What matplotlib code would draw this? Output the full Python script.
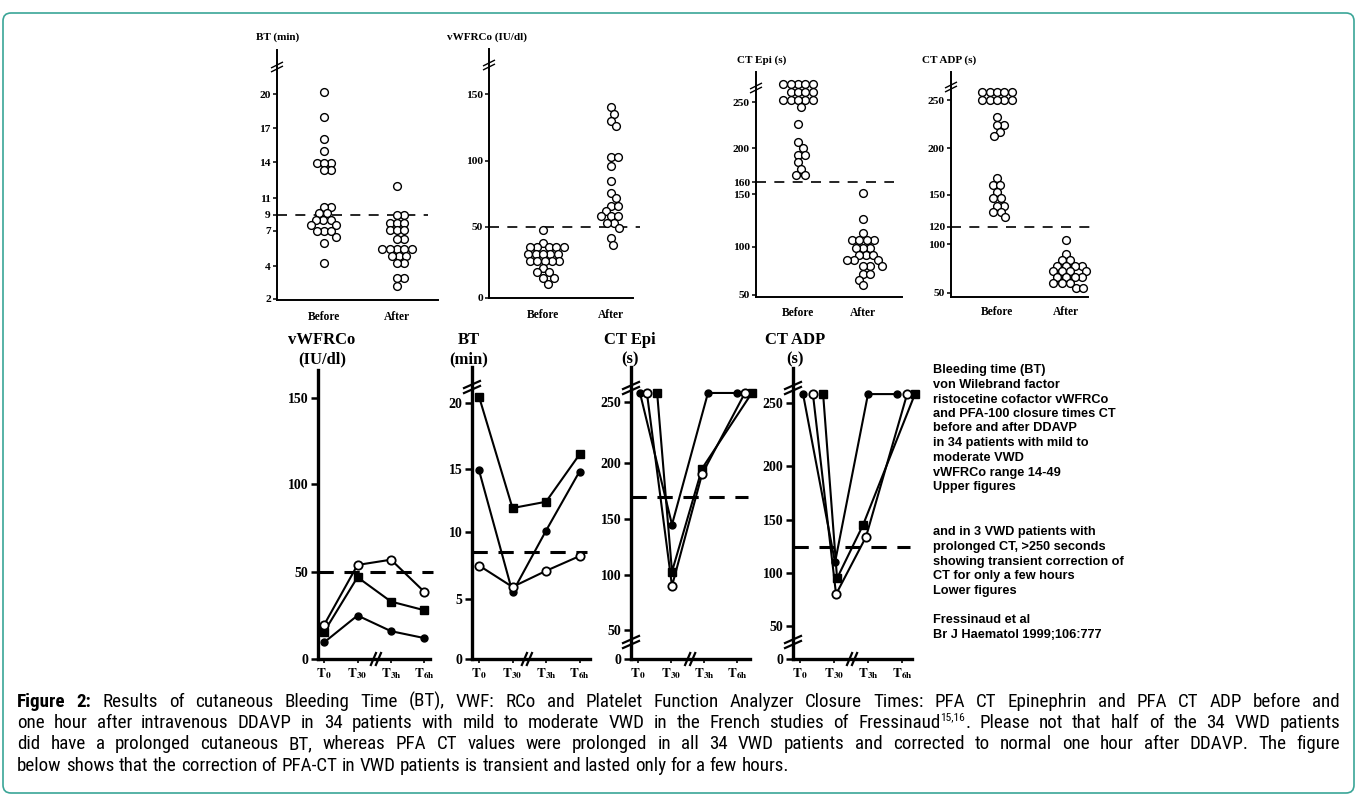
import numpy as np
import matplotlib
matplotlib.use("Agg")
import matplotlib.pyplot as plt
from matplotlib import font_manager, transforms
from matplotlib.font_manager import FontProperties
from matplotlib.lines import Line2D
from matplotlib.patches import FancyBboxPatch

W, H = 1357, 796

# upper figures: 34 VWD patients, before and after DDAVP
groups = ["Before", "After"]
bt_before = [20.2, 18, 16, 15, 13.9, 13.9, 13.9, 13.3, 13.3, 10.0, 10.0, 9.2, 9.2,
             8.4, 8.4, 8.4, 7.8, 7.8, 7.0, 7.0, 7.0, 6.5, 6.0, 4.3]
bt_after = [12.0, 9.0, 9.0, 8.0, 8.0, 8.0, 7.1, 7.1, 7.1, 6.3, 6.3, 5.5, 5.5, 5.5, 5.5,
            5.5, 4.9, 4.9, 4.9, 4.3, 4.3, 3.3, 3.3, 2.8]
vwf_before = [48, 39, 36, 36, 36, 36, 36, 31, 31, 31, 31, 31, 26, 26, 26, 26, 26,
              21, 18, 18, 14, 14, 10]
vwf_after = [140, 135, 130, 126, 103, 103, 96, 85, 76, 72, 66, 66, 62, 58, 58, 58,
             53, 53, 49, 42, 37]
epi_before = [270, 270, 270, 270, 270, 261, 261, 261, 261, 252, 252, 252, 252, 252,
              245, 226, 206, 200, 192, 192, 183, 175, 168, 168]
epi_after = [151, 126, 113, 107, 107, 107, 107, 99, 99, 99, 92, 92, 92, 86, 86, 86,
             80, 80, 80, 72, 72, 66, 60]
adp_before = [258, 258, 258, 258, 258, 250, 250, 250, 250, 250, 232, 224, 224, 217,
              212, 168, 161, 161, 153, 147, 147, 140, 140, 134, 134, 129]
adp_after = [105, 90, 84, 84, 78, 78, 78, 78, 72, 72, 72, 72, 66, 66, 66, 66,
             60, 60, 60, 55, 55]

# tick labels of the scanned axes (their spacing is not quite linear)
bt_ticks = [2, 4, 7, 9, 11, 14, 17, 20]
vwf_ticks = [0, 50, 100, 150]
epi_ticks = [50, 100, 150, 160, 200, 250]
adp_ticks = [50, 100, 120, 150, 200, 250]

# lower figures: 3 VWD patients with prolonged CT
time_labels = [r"$\mathbf{T_{0}}$", r"$\mathbf{T_{30}}$", r"$\mathbf{T_{3h}}$", r"$\mathbf{T_{6h}}$"]
times = [0, 1, 2, 3]
vwf_open = [19.5, 54, 57, 38.5]
vwf_square = [15.5, 47, 33, 28]
vwf_dot = [9.5, 25, 16, 12]
bt_square = [20.5, 11.9, 12.4, 16.1]
bt_dot = [14.9, 5.5, 10.1, 14.8]
bt_open = [7.5, 5.9, 7.1, 8.2]
epi_dot_t = [0.06, 1.03, 2.12, 3.0]
epi_dot = [258, 145, 258, 258]
epi_open_t = [0.27, 1.03, 1.94, 3.24]
epi_open = [258, 90, 190, 258]
epi_square_t = [0.58, 1.03, 1.94, 3.45]
epi_square = [258, 103, 195, 258]
adp_dot_t = [0.09, 1.03, 2.0, 2.85]
adp_dot = [258, 110, 258, 258]
adp_open_t = [0.38, 1.06, 1.94, 3.15]
adp_open = [258, 80, 134, 258]
adp_square_t = [0.68, 1.09, 1.85, 3.38]
adp_square = [258, 95, 145, 258]
low_vwf_ticks = [0, 50, 100, 150]
low_bt_ticks = [0, 5, 10, 15, 20]
low_ct_ticks = [0, 50, 100, 150, 200, 250]

notes = [
    (370, "Bleeding time (BT)"), (385, "von Wilebrand factor"),
    (400, "ristocetine cofactor vWFRCo"), (414, "and PFA-100 closure times CT"),
    (428, "before and after DDAVP"), (443, "in 34 patients with mild to"),
    (458, "moderate VWD"), (473, "vWFRCo range 14-49"), (487, "Upper figures"),
    (532, "and in 3 VWD patients with"), (547, "prolonged CT, >250 seconds"),
    (562, "showing transient correction of"), (576, "CT for only a few hours"),
    (591, "Lower figures"), (620, "Fressinaud et al"), (635, "Br J Haematol 1999;106:777"),
]

cap1 = ("Results of cutaneous Bleeding Time (BT), VWF: RCo and Platelet Function Analyzer "
        "Closure Times: PFA CT Epinephrin and PFA CT ADP before and")
cap2a = ("one hour after intravenous DDAVP in 34 patients with mild to moderate VWD in the "
         "French studies of Fressinaud")
cap2b = ". Please not that half of the 34 VWD patients"
cap3 = ("did have a prolonged cutaneous BT, whereas PFA CT values were prolonged in all 34 VWD "
        "patients and corrected to normal one hour after DDAVP. The figure")
cap4 = "below shows that the correction of PFA-CT in VWD patients is transient and lasted only for a few hours."

SERIF = "Liberation Serif"
SANS = "Liberation Sans"


def narrow_files():
    # look for a condensed sans face for the caption
    prefs = ["Liberation Sans Narrow", "Arial Narrow", "Roboto Condensed",
             "Open Sans Condensed", "Noto Sans Condensed", "DejaVu Sans"]
    found = {}
    for f in font_manager.fontManager.ttflist:
        cond = ("Narrow" in f.name or "Condensed" in f.name or
                f.stretch in ("condensed", "semi-condensed", "extra-condensed")
                or "Condensed" in f.fname)
        if not cond or f.style != "normal":
            continue
        w = f.weight if isinstance(f.weight, int) else (700 if "bold" in str(f.weight) else 400)
        key = "bold" if w >= 600 else ("reg" if w == 400 else None)
        if key:
            found.setdefault(f.name, {})[key] = f.fname
    for p in prefs:
        if p in found and "reg" in found[p]:
            d = found[p]
            return d["reg"], d.get("bold", d["reg"])
    for n, d in found.items():
        if "reg" in d:
            return d["reg"], d.get("bold", d["reg"])
    return None, None


REG, BOLD = narrow_files()


def cap_prop(size, bold=False):
    if REG:
        return FontProperties(fname=BOLD if bold else REG, size=size)
    return FontProperties(family=SANS, size=size, weight="bold" if bold else "normal")


fig = plt.figure(figsize=(W / 100, H / 100), dpi=100)
PIX = transforms.Affine2D().scale(1, -1).translate(0, H)


def pline(xs, ys, lw=1.2):
    fig.add_artist(Line2D(xs, ys, transform=PIX, color="k", lw=lw, solid_capstyle="butt"))


def ybreak(x, y, w=8, h=4, gap=4, lw=1.2):
    for g in (-gap / 2, gap / 2):
        pline([x - w, x + w], [y + g + h, y + g - h], lw)


def xbreak(x, y, w=3, h=7, gap=5, lw=1.4):
    for g in (-gap / 2, gap / 2):
        pline([x + g - w, x + g + w], [y + h, y - h], lw)


def ftext(x, y, s, **kw):
    return fig.text(x / W, 1 - y / H, s, **kw)


def add_ax(left, right, top, bottom):
    ax = fig.add_axes([left / W, 1 - bottom / H, (right - left) / W, (bottom - top) / H])
    ax.patch.set_alpha(0)
    ax.spines["top"].set_visible(False)
    ax.spines["right"].set_visible(False)
    return ax


def yscale(ax, ticks, pix, lo, hi, top, bottom):
    t = np.array([lo] + list(ticks) + [hi], float)
    p = -np.array([bottom] + list(pix) + [top], float)
    ax.set_yscale("function", functions=(lambda v: np.interp(v, t, p),
                                         lambda u: np.interp(u, p, t)))
    ax.set_ylim(lo, hi)
    ax.set_yticks(ticks)


def swarm(ax, xc, ys, d=7.3):
    disp = ax.transData.transform(np.column_stack([np.full(len(ys), xc), ys]))
    out = np.zeros(len(ys))
    placed = []
    for i in np.argsort(disp[:, 1])[::-1]:
        x0, y0 = disp[i]
        cands = [0.0]
        for px, py in placed:
            dy = py - y0
            if abs(dy) < d:
                dx = np.sqrt(d * d - dy * dy)
                cands += [px - x0 + dx, px - x0 - dx]
        for c in sorted(cands, key=abs):
            if all((px - x0 - c) ** 2 + (py - y0) ** 2 >= d * d * 0.97 for px, py in placed):
                break
        placed.append((x0 + c, y0))
        out[i] = x0 + c
    return ax.transData.inverted().transform(np.column_stack([out, disp[:, 1]]))[:, 0]


def upper(box, ticks, pix, lo, hi, bpx, apx, before, after, ref, ref_end, title, txy, brk, lab_y):
    left, right, top, bottom = box
    ax = add_ax(left, right, top, bottom)
    step = apx - bpx
    ax.set_xlim((left - bpx) / step, (right - bpx) / step)
    yscale(ax, ticks, pix, lo, hi, top, bottom)
    ax.set_yticklabels([str(t) for t in ticks], fontsize=8.2, fontweight="bold", family=SERIF)
    ax.tick_params(axis="y", length=3, width=1.1, pad=1.5)
    ax.set_xticks([])
    for s in ("left", "bottom"):
        ax.spines[s].set_linewidth(1.4)
    for k, vals in enumerate([before, after]):
        xs = swarm(ax, k, vals)
        ax.plot(xs, vals, "o", ms=5.6, mfc="white", mec="k", mew=1.0, clip_on=False, zorder=3)
    ax.axhline(ref, 0, (ref_end - left) / (right - left), color="k", lw=1.2,
               dashes=(6, 5), clip_on=False, zorder=1)
    ftext(txy[0], txy[1], title, fontsize=8, fontweight="bold", family=SERIF, va="center")
    for k, g in enumerate(groups):
        ftext([bpx, apx][k], lab_y, g, fontsize=8.3, fontweight="bold", family=SERIF,
              ha="center", va="center")
    ybreak(left, brk, w=6, h=3, gap=4, lw=1.0)
    return ax


upper((277, 438, 50, 300), bt_ticks, [299, 266, 231, 215, 198, 162, 128, 94], 1.9, 23.9,
      324, 397, bt_before, bt_after, 9, 428, "BT (min)", (256, 37), 67, 317)
upper((489, 633, 49, 298), vwf_ticks, [298, 227, 161, 94], -0.01, 183.6,
      543, 611, vwf_before, vwf_after, 50, 640, "vWFRCo (IU/dl)", (447, 37), 65, 315)
upper((756, 902, 72, 297), epi_ticks, [295, 247, 194, 182, 148, 102], 48, 282.6,
      798, 863, epi_before, epi_after, 160, 894, "CT Epi (s)", (737, 60), 88, 313)
upper((951, 1088, 72, 297), adp_ticks, [293, 244, 227, 195, 148, 100], 46, 279,
      997, 1066, adp_before, adp_after, 120, 1090, "CT ADP (s)", (922, 60), 87, 312)


def lower(box, ticks, pix, hi, t0, step, ref, ref_end, title, tx, brk_top, brk_bot, xbrk):
    left, right, top, bottom = box
    ax = add_ax(left, right, top, bottom)
    ax.set_xlim((left - t0) / step, (right - t0) / step)
    yscale(ax, ticks[1:], pix[1:], ticks[0], hi, top, bottom)
    ax.set_yticks(ticks)
    ax.set_yticklabels([str(t) for t in ticks], fontsize=10, fontweight="bold", family=SERIF)
    ax.set_xticks(times)
    ax.set_xticklabels(time_labels, fontsize=9.5, math_fontfamily="stix")
    ax.tick_params(axis="y", length=5, width=1.8, pad=2)
    ax.tick_params(axis="x", length=3, width=1.2, pad=2)
    for s in ("left", "bottom"):
        ax.spines[s].set_linewidth(2.4)
    ax.axhline(ref, 0, (ref_end - left) / (right - left), color="k", lw=2.2,
               dashes=(5, 3.5), clip_on=False, zorder=1)
    ftext(tx, 340, title[0], fontsize=12, fontweight="bold", family=SERIF, ha="center", va="center")
    ftext(tx, 359, title[1], fontsize=12, fontweight="bold", family=SERIF, ha="center", va="center")
    if brk_top:
        ybreak(left, brk_top, w=9, h=4, gap=5, lw=1.6)
    if brk_bot:
        ybreak(left, brk_bot, w=9, h=4, gap=5, lw=1.6)
    xbreak(t0 + xbrk * step, bottom, lw=1.6)
    return ax


def series(ax, t, v, kind):
    if kind == "open":
        ax.plot(t, v, "-o", color="k", lw=1.5, ms=6, mfc="white", mec="k", mew=1.3,
                clip_on=False, zorder=4)
    elif kind == "square":
        ax.plot(t, v, "-s", color="k", lw=1.5, ms=5.5, clip_on=False, zorder=3)
    else:
        ax.plot(t, v, "-o", color="k", lw=1.5, ms=5, clip_on=False, zorder=3)


ax5 = lower((318, 430, 370, 659), low_vwf_ticks, [659, 572, 484, 398], 166, 324, 33.5,
            50, 433, ("vWFRCo", "(IU/dl)"), 322, None, None, 1.55)
series(ax5, times, vwf_dot, "dot")
series(ax5, times, vwf_square, "square")
series(ax5, times, vwf_open, "open")

ax6 = lower((472, 590, 367, 659), low_bt_ticks, [659, 599, 532, 469, 403], 22.8, 479, 33.5,
            8.5, 587, ("BT", "(min)"), 469, 387, None, 1.43)
series(ax6, times, bt_square, "square")
series(ax6, times, bt_dot, "dot")
series(ax6, times, bt_open, "open")

ax7 = lower((631, 750, 367, 659), low_ct_ticks, [659, 630, 575, 519, 463, 402], 281, 638, 33,
            170, 748, ("CT Epi", "(s)"), 630, 388, 642, 1.58)
series(ax7, epi_dot_t, epi_dot, "dot")
series(ax7, epi_square_t, epi_square, "square")
series(ax7, epi_open_t, epi_open, "open")

ax8 = lower((793, 912, 368, 659), low_ct_ticks, [659, 626, 573, 520, 466, 403], 281.4, 800, 34,
            125, 910, ("CT ADP", "(s)"), 795, 388, 642, 1.53)
series(ax8, adp_dot_t, adp_dot, "dot")
series(ax8, adp_square_t, adp_square, "square")
series(ax8, adp_open_t, adp_open, "open")

for y, s in notes:
    ftext(933, y, s, fontsize=9.2, fontweight="bold", family=SANS, va="center")

# caption: justified lines, one text per word
r = fig.canvas.get_renderer()


def wpx(s, size, bold=False):
    prop = cap_prop(size, bold)

    def w(t):
        return r.get_text_width_height_descent(t, prop, ismath=False)[0]
    pad = 2 * w("x") - w("xx")
    return w(s) - pad


def words(s):
    return [[(w, 1.0, False, 0.0)] for w in s.split()]


cap_lines = [
    [[("Figure", 1.0, True, 0.0)], [("2:", 1.0, True, 0.0)]] + words(cap1),
    words(cap2a)[:-1] + [[("Fressinaud", 1.0, False, 0.0), ("15,16", 0.6, False, -0.6),
                          (".", 1.0, False, 0.0)]] + words(cap2b[1:]),
    words(cap3),
    words(cap4),
]


def gw(g, size):
    return sum(wpx(s, size * k, b) for s, k, b, dy in g)


LW = 1323
fits = []
sp10 = wpx("n n", 10) - wpx("nn", 10)
for line in cap_lines[:3]:
    nat = sum(gw(g, 10) for g in line) + (len(line) - 1) * sp10
    fits.append(10 * LW / nat)
cs = min(min(fits), 13.7)
space = wpx("n n", cs) - wpx("nn", cs)

for i, line in enumerate(cap_lines):
    y = 707 + 21.2 * i
    widths = [gw(g, cs) for g in line]
    gap = (LW - sum(widths)) / (len(line) - 1) if i < 3 else space
    x = 17
    for g, wd in zip(line, widths):
        xx = x
        for s, k, b, dy in g:
            ftext(xx, y + dy * cs, s, fontproperties=cap_prop(cs * k, b), va="baseline")
            xx += wpx(s, cs * k, b)
        x += wd + gap

fig.add_artist(FancyBboxPatch((3, 13), 1351, 780, boxstyle="round,pad=0,rounding_size=8",
                              transform=PIX, fill=False, ec="#3aa597", lw=1.2))

fig.savefig("out.png", dpi=100)
